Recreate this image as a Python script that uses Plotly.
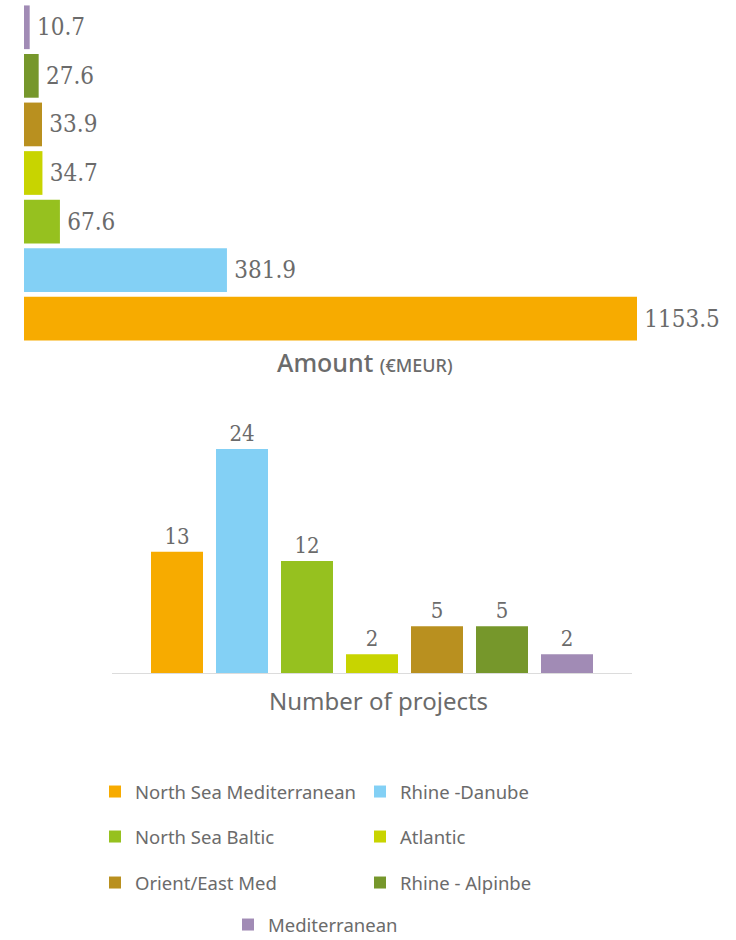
import plotly.graph_objects as go

# ---- data ----
corridors = ["North Sea Mediterranean", "Rhine -Danube", "North Sea Baltic", "Atlantic",
             "Orient/East Med", "Rhine - Alpinbe", "Mediterranean"]
colors = ["#F7AB00", "#83D0F5", "#96C11F", "#C8D400", "#B9901F", "#76972B", "#A18BB5"]
amount_meur = [1153.5, 381.9, 67.6, 34.7, 33.9, 27.6, 10.7]
num_projects = [13, 24, 12, 2, 5, 5, 2]

# top chart order (top to bottom)
top_order = ["Mediterranean", "Rhine - Alpinbe", "Orient/East Med", "Atlantic",
             "North Sea Baltic", "Rhine -Danube", "North Sea Mediterranean"]

legend_of = {
    "North Sea Mediterranean": "legend", "Rhine -Danube": "legend",
    "North Sea Baltic": "legend2", "Atlantic": "legend2",
    "Orient/East Med": "legend3", "Rhine - Alpinbe": "legend3",
    "Mediterranean": "legend4",
}

W, H = 736, 940
def px_x(p): return p / W
def px_y(p): return 1 - p / H

TXT = "#6b6b6b"
NUMFONT = "DejaVu Serif Condensed, DejaVu Serif, serif"
SANS = "Noto Sans, Open Sans, sans-serif"

fig = go.Figure()

# top horizontal bars
for name, col, val in zip(corridors, colors, amount_meur):
    fig.add_trace(go.Bar(
        x=[val], y=[name], orientation="h", marker=dict(color=col, line=dict(width=0)),
        text=[f"\u2009{val:.1f}"], textposition="outside", cliponaxis=False,
        textfont=dict(family=NUMFONT, size=24, color=TXT),
        xaxis="x", yaxis="y", showlegend=False, hoverinfo="skip",
    ))

# bottom vertical bars
for name, col, val in zip(corridors, colors, num_projects):
    fig.add_trace(go.Bar(
        x=[name], y=[val], marker=dict(color=col, line=dict(width=0)),
        text=[str(val)], textposition="outside", cliponaxis=False,
        textfont=dict(family=NUMFONT, size=22, color=TXT),
        xaxis="x2", yaxis="y2", name=name, legend=legend_of[name], showlegend=True,
        width=0.8,
    ))

legend_common = dict(orientation="h", font=dict(family=SANS, size=18.5, color=TXT),
                     bgcolor="rgba(0,0,0,0)", entrywidth=220, entrywidthmode="pixels",
                     xanchor="left", yanchor="middle", itemclick=False, itemdoubleclick=False,
                     traceorder="normal")

fig.update_layout(
    width=W, height=H, margin=dict(l=0, r=0, t=0, b=0, autoexpand=False),
    paper_bgcolor="white", plot_bgcolor="white",
    barmode="relative", bargap=0.1,
    xaxis=dict(domain=[px_x(24), px_x(637)], range=[0, 1153.5], visible=False, fixedrange=True),
    yaxis=dict(domain=[px_y(343), px_y(3)], categoryorder="array", categoryarray=top_order,
               autorange="reversed", visible=False, fixedrange=True),
    xaxis2=dict(domain=[px_x(112), px_x(632)], categoryorder="array", categoryarray=corridors,
                range=[-1, 7], showticklabels=False, ticks="", showline=True,
                linecolor="#dcdcdc", linewidth=1, showgrid=False, zeroline=False,
                anchor="y2", fixedrange=True),
    yaxis2=dict(domain=[px_y(673), px_y(421)], range=[0, 27], visible=False,
                anchor="x2", fixedrange=True),
    legend=dict(**legend_common, x=px_x(95), y=px_y(792)),
    legend2=dict(**legend_common, x=px_x(95), y=px_y(837)),
    legend3=dict(**legend_common, x=px_x(95), y=px_y(883)),
    legend4=dict(**legend_common, x=px_x(228), y=px_y(925)),
    annotations=[
        dict(text="Amount <span style='font-size:18px'>(€MEUR)</span>",
             x=px_x(365), y=px_y(362), xref="paper", yref="paper", showarrow=False,
             xanchor="center", yanchor="middle",
             font=dict(family=SANS, size=25, color=TXT, weight=500)),
        dict(text="Number of projects", x=px_x(378), y=px_y(700), xref="paper", yref="paper",
             showarrow=False, xanchor="center", yanchor="middle",
             font=dict(family=SANS, size=24, color=TXT, weight=400)),
    ],
)

fig.write_html("out.html")
